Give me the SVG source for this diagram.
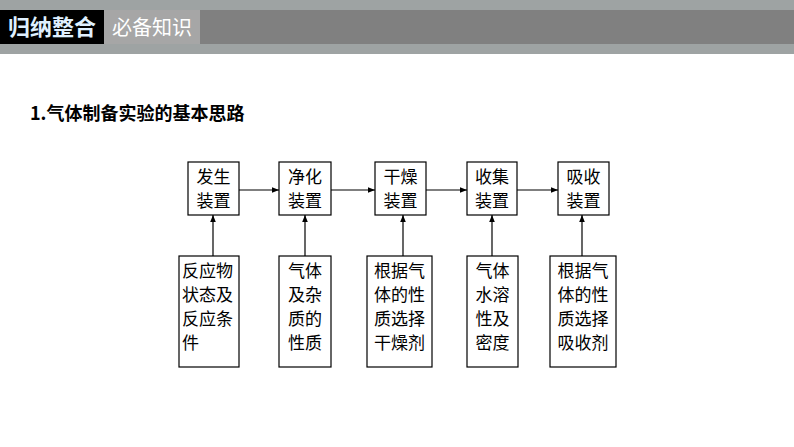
<svg xmlns="http://www.w3.org/2000/svg" width="794" height="447" viewBox="0 0 794 447">
<style>
.b{fill:#fff;stroke:#000;stroke-width:1.2}
.t{font-family:"Noto Sans CJK SC",sans-serif;font-size:17px;fill:#000}
.c line{stroke:#000;stroke-width:1.2;marker-end:url(#a)}
</style>
<defs><marker id="a" viewBox="0 0 10 10" refX="10" refY="5" markerWidth="7" markerHeight="7" markerUnits="userSpaceOnUse" orient="auto"><path d="M0,1L10,5L0,9z" fill="#000"/></marker></defs>
<rect width="794" height="447" fill="#fff"/>
<rect x="0" y="0" width="794" height="54" fill="#9ea3a3"/>
<rect x="0" y="10" width="794" height="34" fill="#808080"/>
<rect x="0" y="10" width="104" height="34" fill="#000"/>
<rect x="104" y="10" width="96" height="34" fill="#a6a6a6"/>
<text x="52" y="35" text-anchor="middle" font-family="Noto Sans CJK SC,sans-serif" font-size="22" font-weight="bold" fill="#dff0ff">归纳整合</text>
<text x="152" y="35" text-anchor="middle" font-family="Noto Sans CJK SC,sans-serif" font-size="20" fill="#fff">必备知识</text>
<text x="30" y="120" font-family="Noto Sans CJK SC,sans-serif" font-size="18" font-weight="bold">1.气体制备实验的基本思路</text>
<g id="n1"><rect class="b" x="188" y="162" width="51" height="53"/><text class="t" x="213.5" y="183" text-anchor="middle">发生<tspan x="213.5" dy="24">装置</tspan></text></g>
<g id="n2"><rect class="b" x="279" y="162" width="52" height="53"/><text class="t" x="305" y="183" text-anchor="middle">净化<tspan x="305" dy="24">装置</tspan></text></g>
<g id="n3"><rect class="b" x="375" y="162" width="51" height="53"/><text class="t" x="400.5" y="183" text-anchor="middle">干燥<tspan x="400.5" dy="24">装置</tspan></text></g>
<g id="n4"><rect class="b" x="467" y="162" width="50" height="53"/><text class="t" x="492" y="183" text-anchor="middle">收集<tspan x="492" dy="24">装置</tspan></text></g>
<g id="n5"><rect class="b" x="558" y="162" width="51" height="53"/><text class="t" x="583.5" y="183" text-anchor="middle">吸收<tspan x="583.5" dy="24">装置</tspan></text></g>
<g id="m1"><rect class="b" x="179" y="256" width="60" height="111"/><text class="t" x="182" y="277">反应物<tspan x="182" dy="24">状态及</tspan><tspan x="182" dy="24">反应条</tspan><tspan x="182" dy="24">件</tspan></text></g>
<g id="m2"><rect class="b" x="279" y="256" width="52" height="111"/><text class="t" x="305" y="277" text-anchor="middle">气体<tspan x="305" dy="24">及杂</tspan><tspan x="305" dy="24">质的</tspan><tspan x="305" dy="24">性质</tspan></text></g>
<g id="m3"><rect class="b" x="367" y="256" width="65" height="111"/><text class="t" x="399.5" y="277" text-anchor="middle">根据气<tspan x="399.5" dy="24">体的性</tspan><tspan x="399.5" dy="24">质选择</tspan><tspan x="399.5" dy="24">干燥剂</tspan></text></g>
<g id="m4"><rect class="b" x="467" y="256" width="51" height="111"/><text class="t" x="492.5" y="277" text-anchor="middle">气体<tspan x="492.5" dy="24">水溶</tspan><tspan x="492.5" dy="24">性及</tspan><tspan x="492.5" dy="24">密度</tspan></text></g>
<g id="m5"><rect class="b" x="550" y="256" width="66" height="111"/><text class="t" x="583" y="277" text-anchor="middle">根据气<tspan x="583" dy="24">体的性</tspan><tspan x="583" dy="24">质选择</tspan><tspan x="583" dy="24">吸收剂</tspan></text></g>
<g class="c">
<line x1="239" y1="190" x2="279" y2="190"/>
<line x1="331" y1="190" x2="375" y2="190"/>
<line x1="426" y1="190" x2="467" y2="190"/>
<line x1="517" y1="190" x2="558" y2="190"/>
<line x1="213" y1="256" x2="213" y2="215"/>
<line x1="305" y1="256" x2="305" y2="215"/>
<line x1="403" y1="256" x2="403" y2="215"/>
<line x1="492" y1="256" x2="492" y2="215"/>
<line x1="582" y1="256" x2="582" y2="215"/>
</g>
</svg>
